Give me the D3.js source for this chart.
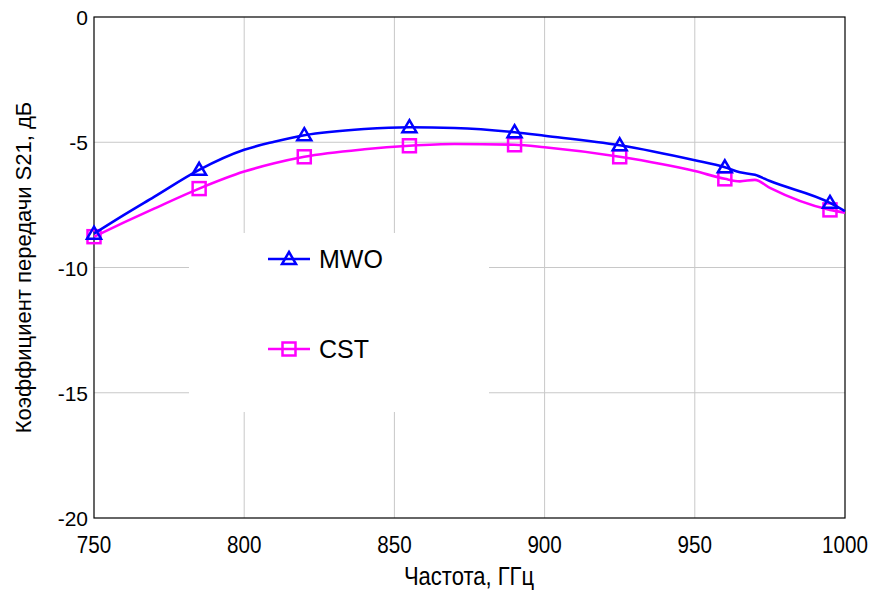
<!DOCTYPE html>
<html><head><meta charset="utf-8">
<script src="https://cdn.jsdelivr.net/npm/d3@7"></script>
<style>body{margin:0;background:#fff}svg{display:block}</style>
</head><body><svg id="c" width="874" height="590"></svg>
<script>
const freqs = [750,760,770,785,800,810,820,840,855,870,890,900,925,950,960,965,970,975,995,1000];
const mwo   = [-8.65,-7.9,-7.18,-6.1,-5.3,-4.98,-4.72,-4.47,-4.4,-4.43,-4.6,-4.74,-5.12,-5.72,-6.0,-6.2,-6.3,-6.55,-7.42,-7.75];
const cst   = [-8.77,-8.2,-7.65,-6.85,-6.17,-5.84,-5.58,-5.28,-5.14,-5.07,-5.1,-5.2,-5.58,-6.15,-6.46,-6.56,-6.5,-6.82,-7.7,-7.81];
const markerFreqs = [750,785,820,855,890,925,960,995];
const xTicks = [750,800,850,900,950,1000];
const yTicks = [0,-5,-10,-15,-20];
const seriesNames = ["MWO","CST"];
const xTitle = "Частота, ГГц";
const yTitle = "Коэффициент передачи S21, дБ";

const svg = d3.select("#c");
const L=94, R=845, T=17, B=518;
const x = d3.scaleLinear().domain([750,1000]).range([L,R]);
const y = d3.scaleLinear().domain([-20,0]).range([B,T]);
const grid="#c8c8c8";

svg.append("g").selectAll("line").data(xTicks.slice(1,-1)).join("line")
  .attr("x1",d=>x(d)).attr("x2",d=>x(d)).attr("y1",T).attr("y2",B)
  .attr("stroke",grid).attr("stroke-width",1);
svg.append("g").selectAll("line").data(yTicks.slice(1,-1)).join("line")
  .attr("x1",L).attr("x2",R).attr("y1",d=>y(d)).attr("y2",d=>y(d))
  .attr("stroke",grid).attr("stroke-width",1);

svg.append("rect").attr("x",L).attr("y",T).attr("width",R-L).attr("height",B-T)
  .attr("fill","none").attr("stroke","#000").attr("stroke-width",1.2);

svg.append("rect").attr("x",189).attr("y",233).attr("width",300).attr("height",179).attr("fill","#fff");

svg.append("g").selectAll("text").data(yTicks).join("text")
  .attr("x",88).attr("y",d=>y(d)+8).attr("text-anchor","end")
  .attr("font-family","Liberation Sans, Arial, sans-serif").attr("font-size",21)
  .text(d=>d);
svg.append("g").selectAll("text").data(xTicks).join("text")
  .attr("transform",d=>`translate(${x(d)},553) scale(0.86,1)`).attr("text-anchor","middle")
  .attr("font-family","Liberation Sans, Arial, sans-serif").attr("font-size",24)
  .text(d=>d);

svg.append("text").attr("transform","translate(469,585) scale(0.88,1)").attr("text-anchor","middle")
  .attr("font-family","Liberation Sans, Arial, sans-serif").attr("font-size",25)
  .text(xTitle);
svg.append("text").attr("transform",`translate(31,${(T+B)/2}) rotate(-90)`).attr("text-anchor","middle")
  .attr("font-family","Liberation Sans, Arial, sans-serif").attr("font-size",22)
  .text(yTitle);

const colors=["#0000ff","#ff00ff"];
const data=[mwo,cst];
const line=d3.line().x(d=>x(d[0])).y(d=>y(d[1])).curve(d3.curveMonotoneX);

function triangle(g,cx,cy,c){
  g.append("path").attr("d",`M${cx},${cy-7}L${cx+7},${cy+5}L${cx-7},${cy+5}Z`)
   .attr("fill","none").attr("stroke",c).attr("stroke-width",2.5).attr("stroke-linejoin","miter");
}
function square(g,cx,cy,c){
  g.append("rect").attr("x",cx-6.5).attr("y",cy-6.5).attr("width",13).attr("height",13)
   .attr("fill","none").attr("stroke",c).attr("stroke-width",2.5);
}
const markerFns=[triangle,square];

[1,0].forEach(i=>{
  const pts=freqs.map((f,j)=>[f,data[i][j]]);
  const g=svg.append("g");
  g.append("path").attr("d",line(pts)).attr("fill","none").attr("stroke",colors[i]).attr("stroke-width",2.6);
  pts.filter(p=>markerFreqs.includes(p[0])).forEach(p=>markerFns[i](g,x(p[0]),y(p[1]),colors[i]));
});

seriesNames.forEach((n,i)=>{
  const ly=259+i*90;
  const g=svg.append("g");
  g.append("line").attr("x1",268).attr("x2",310).attr("y1",ly).attr("y2",ly).attr("stroke",colors[i]).attr("stroke-width",2.6);
  markerFns[i](g,289,ly,colors[i]);
  g.append("text").attr("x",319).attr("y",ly+9).attr("font-family","Liberation Sans, Arial, sans-serif").attr("font-size",25).text(n);
});
</script></body></html>
